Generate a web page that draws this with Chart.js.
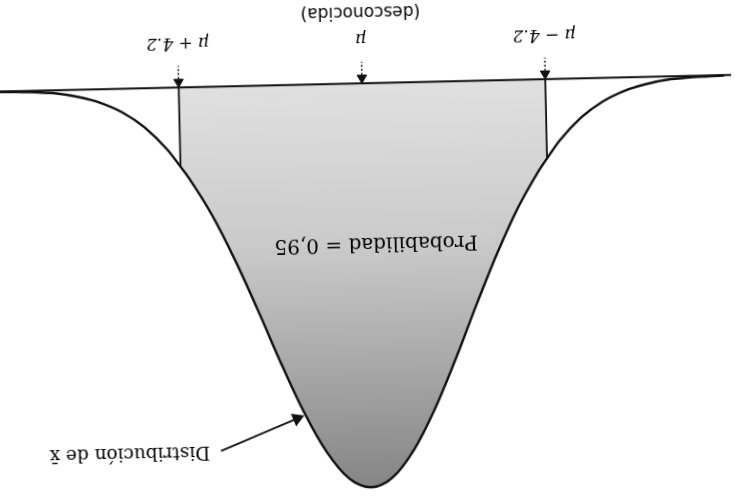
<!DOCTYPE html>
<html>
<head>
  <meta charset="UTF-8">
  <title>Distribución de x̄</title>
  <script src="https://cdn.jsdelivr.net/npm/chart.js"></script>
  <style>
    html, body { margin: 0; padding: 0; background: #fff; overflow: hidden; }
    /* la figura escaneada esta al reves y un poco inclinada */
    #wrap { width: 735px; height: 499px; transform: rotate(178.7deg); background: #fff; }
  </style>
</head>
<body>
  <div id="wrap"><canvas id="chart"></canvas></div>

  <script>
    // Curva normal (altura relativa al pico)
    var curveX = [-8.3, -8, -7.5, -7, -6.5, -6, -5.5, -5, -4.5, -4.2, -4, -3.5, -3, -2.5, -2, -1.5, -1, -0.5, 0,
                  0.5, 1, 1.5, 2, 2.5, 3, 3.5, 4, 4.2, 4.5, 5, 5.5, 6, 6.5, 7, 7.5, 8, 8.4];
    var curveY = [0.001, 0.002, 0.004, 0.008, 0.018, 0.034, 0.059, 0.097, 0.152, 0.196, 0.227, 0.318, 0.43, 0.556, 0.688, 0.81, 0.91, 0.977, 1,
                  0.977, 0.91, 0.81, 0.688, 0.556, 0.43, 0.318, 0.227, 0.196, 0.152, 0.097, 0.059, 0.034, 0.018, 0.008, 0.004, 0.002, 0.001];

    // Limites del intervalo y etiquetas del eje
    var cutX = [-4.2, 4.2];
    var cutH = [0.196, 0.196];
    var tickX = [-4.2, 0, 4.2];
    var tickLabels = ["μ − 4.2", "μ", "μ + 4.2"];
    var probLabel = "Probabilidad = 0,95";
    var distLabel = "Distribución de x̄";
    var unknownLabel = "(desconocida)";

    var curvePts = curveX.map(function (x, i) { return { x: x, y: curveY[i] }; });
    var shadePts = curvePts.filter(function (p) { return p.x >= cutX[0] && p.x <= cutX[1]; });

    var stemPts = [];
    tickX.forEach(function (x) {
      stemPts.push({ x: x, y: -0.021 }, { x: x, y: -0.053 }, { x: x, y: null });
    });

    var arrowFrom = { x: 3.42, y: 0.902 };
    var arrowTo = { x: 1.66, y: 0.826 };

    function shadeGradient(context) {
      var chart = context.chart;
      if (!chart.chartArea) return "#bbb";
      var y = chart.scales.y;
      var g = chart.ctx.createLinearGradient(0, y.getPixelForValue(0), 0, y.getPixelForValue(1));
      g.addColorStop(0, "#e0e0e0");
      g.addColorStop(0.4, "#cacaca");
      g.addColorStop(0.7, "#a8a8a8");
      g.addColorStop(1, "#858585");
      return g;
    }

    var textPlugin = {
      id: "textos",
      afterDatasetsDraw: function (chart) {
        var ctx = chart.ctx, x = chart.scales.x, y = chart.scales.y;
        ctx.save();
        ctx.fillStyle = "#000";
        ctx.textBaseline = "middle";
        ctx.textAlign = "center";
        ctx.font = "20px 'DejaVu Serif', serif";
        ctx.fillText(probLabel, x.getPixelForValue(-0.24), y.getPixelForValue(0.395));
        ctx.textAlign = "left";
        ctx.font = "18.5px 'DejaVu Serif', serif";
        ctx.fillText(distLabel, x.getPixelForValue(3.67), y.getPixelForValue(0.902));
        ctx.textAlign = "center";
        ctx.font = "17px 'DejaVu Sans', sans-serif";
        ctx.fillText(unknownLabel, x.getPixelForValue(0), 488);
        ctx.restore();
      }
    };

    var ctxChart = document.getElementById("chart").getContext("2d");
    var chart = new Chart(ctxChart, {
      type: "scatter",
      data: {
        datasets: [
          { label: "curva", data: curvePts, showLine: true, borderColor: "#111", borderWidth: 2.4,
            pointRadius: 0, cubicInterpolationMode: "monotone", fill: false, order: 1, clip: false },
          { label: "area", data: shadePts, showLine: true, borderWidth: 0, borderColor: "rgba(0,0,0,0)",
            backgroundColor: shadeGradient, pointRadius: 0, cubicInterpolationMode: "monotone", fill: "origin", order: 5 },
          { label: "base", data: [{ x: -8.6, y: 0 }, { x: 8.6, y: 0 }], showLine: true, borderColor: "#111",
            borderWidth: 2, pointRadius: 0, order: 2, clip: false },
          { label: "corte1", data: [{ x: cutX[0], y: 0 }, { x: cutX[0], y: cutH[0] }], showLine: true,
            borderColor: "#111", borderWidth: 1.8, pointRadius: 0, order: 2 },
          { label: "corte2", data: [{ x: cutX[1], y: 0 }, { x: cutX[1], y: cutH[1] }], showLine: true,
            borderColor: "#111", borderWidth: 1.8, pointRadius: 0, order: 2 },
          { label: "flechas", data: tickX.map(function (x) { return { x: x, y: -0.0135 }; }), showLine: false,
            pointStyle: "triangle", pointRadius: 5.5, backgroundColor: "#111", borderColor: "#111", order: 2 },
          { label: "trazos", data: stemPts, showLine: true, spanGaps: false, borderColor: "#222", borderWidth: 1.5,
            borderDash: [2, 2], pointRadius: 0, order: 2 },
          { label: "flechaDist", data: [arrowFrom, arrowTo], showLine: true,
            borderColor: "#111", borderWidth: 1.8, backgroundColor: "#111",
            pointStyle: "triangle", pointRadius: [0, 6],
            pointRotation: function (c) {
              var xs = c.chart.scales.x, ys = c.chart.scales.y;
              var dx = xs.getPixelForValue(arrowTo.x) - xs.getPixelForValue(arrowFrom.x);
              var dy = ys.getPixelForValue(arrowTo.y) - ys.getPixelForValue(arrowFrom.y);
              return Math.atan2(dx, -dy) * 180 / Math.PI;
            }, order: 2 }
        ]
      },
      options: {
        responsive: true,
        maintainAspectRatio: false,
        animation: false,
        layout: { padding: { top: 3, bottom: 0, left: 0, right: 0 } },
        plugins: { legend: { display: false }, tooltip: { enabled: false } },
        scales: {
          x: {
            type: "linear", min: -8.28, max: 8.2,
            grid: { display: false, drawTicks: false }, border: { display: false },
            afterBuildTicks: function (axis) { axis.ticks = tickX.map(function (v) { return { value: v }; }); },
            afterFit: function (axis) { axis.height = 59; },
            ticks: {
              autoSkip: false, maxRotation: 0, padding: 10, color: "#000",
              font: { family: "'DejaVu Serif', serif", size: 17, style: "italic" },
              callback: function (v) { return tickLabels[tickX.indexOf(v)]; }
            }
          },
          y: { display: false, min: -0.06, max: 1.0098 }
        }
      },
      plugins: [textPlugin]
    });
  </script>
</body>
</html>
